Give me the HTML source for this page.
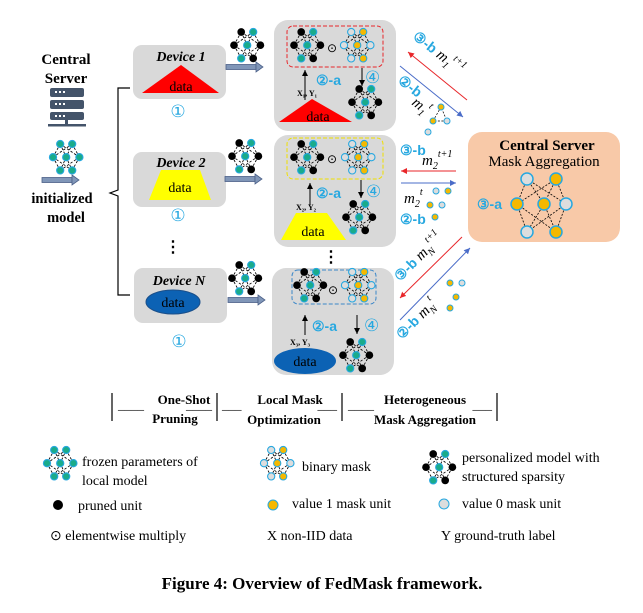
<!DOCTYPE html>
<html><head><style>
body{margin:0;background:#fff}
svg{display:block}
text{font-family:"Liberation Serif",serif}
.b{font-weight:bold}
.c{fill:#27a8e0;font-family:"Liberation Sans",sans-serif;font-weight:bold}
</style></head><body>
<svg width="643" height="613" viewBox="0 0 643 613">
<defs>
<g id="edges" stroke="#000" stroke-width="0.7" stroke-dasharray="2,1.5" fill="none">
<path d="M6,0L0,11M6,0L11,11M6,0L22,11M16,0L0,11M16,0L11,11M16,0L22,11M0,11L6,22M0,11L16,22M11,11L6,22M11,11L16,22M22,11L6,22M22,11L16,22"/>
</g>
<g id="ng"><g transform="translate(4,4) scale(1.2)"><use href="#edges"/><g fill="#1aab8a" stroke="#27a8e0" stroke-width="0.9"><circle cx="6" cy="0" r="3"/><circle cx="16" cy="0" r="3"/><circle cx="0" cy="11" r="3"/><circle cx="11" cy="11" r="3"/><circle cx="22" cy="11" r="3"/><circle cx="6" cy="22" r="3"/><circle cx="16" cy="22" r="3"/></g></g></g>
<g id="np"><g transform="translate(4,4) scale(1.2)"><use href="#edges"/><g fill="#000"><circle cx="6" cy="0" r="3.2"/><circle cx="0" cy="11" r="3.2"/><circle cx="22" cy="11" r="3.2"/><circle cx="16" cy="22" r="3.2"/></g><g fill="#1aab8a" stroke="#27a8e0" stroke-width="0.9"><circle cx="16" cy="0" r="3"/><circle cx="11" cy="11" r="3"/><circle cx="6" cy="22" r="3"/></g></g></g>
<g id="nm"><g transform="translate(4,4) scale(1.2)"><use href="#edges"/><g stroke="#27a8e0" stroke-width="0.9"><circle cx="6" cy="0" r="3" fill="#ddd"/><circle cx="16" cy="0" r="3" fill="#f5b800"/><circle cx="0" cy="11" r="3" fill="#ddd"/><circle cx="11" cy="11" r="3" fill="#f5b800"/><circle cx="22" cy="11" r="3" fill="#ddd"/><circle cx="6" cy="22" r="3" fill="#ddd"/><circle cx="16" cy="22" r="3" fill="#f5b800"/></g></g></g>
<g id="arr"><rect x="0" y="-2.5" width="30" height="5" fill="#8096b8" stroke="#4b6088" stroke-width="0.8"/><path d="M30,-5L37,0L30,5Z" fill="#8096b8" stroke="#4b6088" stroke-width="0.8"/></g>
<marker id="mr" markerWidth="8" markerHeight="8" refX="6" refY="3" orient="auto"><path d="M0,0L6,3L0,6Z" fill="#e8262a"/></marker>
<marker id="mb" markerWidth="8" markerHeight="8" refX="6" refY="3" orient="auto"><path d="M0,0L6,3L0,6Z" fill="#4a6cc8"/></marker>
<marker id="mk" markerWidth="8" markerHeight="8" refX="6" refY="3" orient="auto"><path d="M0,0L6,3L0,6Z" fill="#000"/></marker>
</defs>

<!-- left -->
<text x="66" y="64" text-anchor="middle" class="b" font-size="15">Central</text>
<text x="66" y="83" text-anchor="middle" class="b" font-size="15">Server</text>
<g fill="#44546a"><rect x="50" y="88" width="34" height="9" rx="2"/><rect x="50" y="100" width="34" height="9" rx="2"/><rect x="50" y="112" width="34" height="8" rx="2"/><rect x="65" y="120" width="3" height="5"/><rect x="48" y="124" width="38" height="2.5"/></g>
<g fill="#fff"><rect x="55" y="91" width="2" height="2"/><rect x="59" y="91" width="2" height="2"/><rect x="63" y="91" width="2" height="2"/><rect x="55" y="103" width="2" height="2"/><rect x="59" y="103" width="2" height="2"/><rect x="63" y="103" width="2" height="2"/><rect x="55" y="115" width="2" height="2"/><rect x="59" y="115" width="2" height="2"/><rect x="63" y="115" width="2" height="2"/></g>
<use href="#ng" x="49" y="140"/>
<use href="#arr" x="42" y="180"/>
<text x="62" y="203" text-anchor="middle" class="b" font-size="14.5">initialized</text>
<text x="66" y="222" text-anchor="middle" class="b" font-size="14.5">model</text>
<path d="M130,88H118V190L110,193L118,196V295H130" fill="none" stroke="#000" stroke-width="1.2"/>

<!-- devices -->
<rect x="133" y="45" width="93" height="54" rx="9" fill="#d9d9d9"/>
<text x="181" y="61" text-anchor="middle" class="b" font-style="italic" font-size="14">Device 1</text>
<path d="M142,93L181,65L219,93Z" fill="#f00"/>
<text x="181" y="91" text-anchor="middle" font-size="14">data</text>
<text x="178" y="117" text-anchor="middle" font-size="17" fill="#27a8e0">①</text>

<rect x="133" y="152" width="93" height="55" rx="9" fill="#d9d9d9"/>
<text x="181" y="167" text-anchor="middle" class="b" font-style="italic" font-size="14">Device 2</text>
<path d="M161,170H200L211,200H149Z" fill="#ff0"/>
<text x="180" y="192" text-anchor="middle" font-size="14">data</text>
<text x="178" y="221" text-anchor="middle" font-size="17" fill="#27a8e0">①</text>
<text x="173" y="252" text-anchor="middle" class="b" font-size="16">⋮</text>

<rect x="134" y="268" width="93" height="55" rx="9" fill="#d9d9d9"/>
<text x="179" y="285" text-anchor="middle" class="b" font-style="italic" font-size="14">Device N</text>
<ellipse cx="173" cy="302" rx="27" ry="12" fill="#0c62b4" stroke="#1a4f8a"/>
<text x="173" y="307" text-anchor="middle" font-size="14">data</text>
<text x="179" y="347" text-anchor="middle" font-size="17" fill="#27a8e0">①</text>

<!-- pruned nets & arrows -->
<use href="#np" x="230" y="28"/><use href="#arr" x="226" y="67"/>
<use href="#np" x="228" y="139"/><use href="#arr" x="225" y="179"/>
<use href="#np" x="228" y="261"/><use href="#arr" x="228" y="300"/>

<!-- local boxes -->
<g>
<rect x="274" y="20" width="122" height="111" rx="14" fill="#d9d9d9"/>
<rect x="287" y="26" width="96" height="41" rx="6" fill="none" stroke="#e8262a" stroke-dasharray="4,2"/>
<use href="#np" x="290" y="28"/><text x="327" y="52" font-size="12">⊙</text><use href="#nm" x="340" y="28"/>
<line x1="305" y1="100" x2="305" y2="70" stroke="#000" marker-end="url(#mk)"/>
<line x1="362" y1="68" x2="362" y2="86" stroke="#000" marker-end="url(#mk)"/>
<text x="316" y="85" class="c" font-size="14">②-a</text>
<text x="365" y="83" font-size="17" fill="#27a8e0">④</text>
<text x="297" y="96" font-family="Liberation Sans" font-weight="bold" font-size="8">X₁, Y₁</text>
<use href="#np" x="348" y="85"/>
<path d="M279,122L312,99L352,122Z" fill="#f00"/>
<text x="318" y="121" text-anchor="middle" font-size="14">data</text>
</g>
<g>
<rect x="274" y="135" width="122" height="112" rx="14" fill="#d9d9d9"/>
<rect x="287" y="138" width="96" height="41" rx="6" fill="none" stroke="#f0e000" stroke-dasharray="4,2"/>
<use href="#np" x="290" y="140"/><text x="327" y="163" font-size="12">⊙</text><use href="#nm" x="341" y="140"/>
<line x1="310" y1="205" x2="310" y2="183" stroke="#000" marker-end="url(#mk)"/>
<line x1="361" y1="180" x2="361" y2="198" stroke="#000" marker-end="url(#mk)"/>
<text x="316" y="198" class="c" font-size="14">②-a</text>
<text x="366" y="197" font-size="17" fill="#27a8e0">④</text>
<text x="296" y="210" font-family="Liberation Sans" font-weight="bold" font-size="8">X₂, Y₂</text>
<use href="#np" x="342" y="200"/>
<path d="M296,213H327L346,240H281Z" fill="#ff0"/>
<text x="313" y="236" text-anchor="middle" font-size="14">data</text>
</g>
<text x="331" y="262" text-anchor="middle" class="b" font-size="16">⋮</text>
<g>
<rect x="272" y="268" width="122" height="107" rx="14" fill="#d9d9d9"/>
<rect x="292" y="270" width="84" height="34" rx="6" fill="none" stroke="#3a86c8" stroke-dasharray="4,2"/>
<use href="#np" x="293" y="268"/><text x="328" y="294" font-size="12">⊙</text><use href="#nm" x="341" y="268"/>
<line x1="305" y1="335" x2="305" y2="315" stroke="#000" marker-end="url(#mk)"/>
<line x1="357" y1="315" x2="357" y2="334" stroke="#000" marker-end="url(#mk)"/>
<text x="312" y="331" class="c" font-size="14">②-a</text>
<text x="364" y="331" font-size="17" fill="#27a8e0">④</text>
<text x="290" y="345" font-family="Liberation Sans" font-weight="bold" font-size="8">X₃, Y₃</text>
<use href="#np" x="339" y="338"/>
<ellipse cx="305" cy="361" rx="31" ry="13" fill="#0c62b4"/>
<text x="305" y="366" text-anchor="middle" font-size="14">data</text>
</g>

<!-- arrows to/from server -->
<line x1="467" y1="100" x2="408" y2="52" stroke="#e8262a" marker-end="url(#mr)"/>
<line x1="400" y1="66" x2="463" y2="117" stroke="#4a6cc8" marker-end="url(#mb)"/>
<text x="412" y="38" transform="rotate(38 412 38)" class="c" font-size="14">③-b <tspan fill="#000" font-family="Liberation Serif" font-style="italic" font-weight="normal" font-size="15">m</tspan><tspan fill="#000" font-family="Liberation Serif" font-style="italic" font-weight="normal" font-size="10" dy="4">1</tspan><tspan fill="#000" font-family="Liberation Serif" font-style="italic" font-weight="normal" font-size="10" dy="-12">t+1</tspan></text>
<text x="397" y="82" transform="rotate(38 397 82)" class="c" font-size="14">②-b</text>
<text x="411" y="104" transform="rotate(38 411 104)" font-style="italic" font-size="15">m<tspan font-size="10" dy="4">1</tspan><tspan font-size="10" dy="-12">t</tspan></text>
<g stroke="#000" stroke-width="0.7" stroke-dasharray="2,1.5" fill="none"><path d="M441,107L433,121L447,121Z"/></g>
<circle cx="441" cy="107" r="3" fill="#f5b800" stroke="#27a8e0"/><circle cx="433" cy="121" r="3" fill="#f5b800" stroke="#27a8e0"/><circle cx="447" cy="121" r="3" fill="#ddd" stroke="#27a8e0"/><circle cx="428" cy="132" r="3" fill="#ddd" stroke="#27a8e0"/>

<text x="400" y="155" class="c" font-size="14">③-b</text>
<text x="422" y="165" font-style="italic" font-size="15">m<tspan font-size="10" dy="4">2</tspan><tspan font-size="10" dy="-12">t+1</tspan></text>
<line x1="456" y1="171" x2="401" y2="171" stroke="#e8262a" marker-end="url(#mr)"/>
<line x1="401" y1="183" x2="456" y2="183" stroke="#4a6cc8" marker-end="url(#mb)"/>
<text x="404" y="203" font-style="italic" font-size="15">m<tspan font-size="10" dy="4">2</tspan><tspan font-size="10" dy="-12">t</tspan></text>
<text x="400" y="224" class="c" font-size="14">②-b</text>
<circle cx="436" cy="191" r="3" fill="#ddd" stroke="#27a8e0"/><circle cx="448" cy="191" r="3" fill="#f5b800" stroke="#27a8e0"/><circle cx="430" cy="205" r="3" fill="#f5b800" stroke="#27a8e0"/><circle cx="442" cy="205" r="3" fill="#ddd" stroke="#27a8e0"/><circle cx="435" cy="217" r="3" fill="#f5b800" stroke="#27a8e0"/>

<line x1="462" y1="237" x2="400" y2="298" stroke="#e8262a" marker-end="url(#mr)"/>
<line x1="400" y1="320" x2="470" y2="248" stroke="#4a6cc8" marker-end="url(#mb)"/>
<text x="400" y="282" transform="rotate(-45 400 282)" class="c" font-size="14">③-b <tspan fill="#000" font-family="Liberation Serif" font-style="italic" font-weight="normal" font-size="15">m</tspan><tspan fill="#000" font-family="Liberation Serif" font-style="italic" font-weight="normal" font-size="10" dy="4">N</tspan><tspan fill="#000" font-family="Liberation Serif" font-style="italic" font-weight="normal" font-size="10" dy="-12">t+1</tspan></text>
<text x="402" y="340" transform="rotate(-45 402 340)" class="c" font-size="14">②-b <tspan fill="#000" font-family="Liberation Serif" font-style="italic" font-weight="normal" font-size="15">m</tspan><tspan fill="#000" font-family="Liberation Serif" font-style="italic" font-weight="normal" font-size="10" dy="4">N</tspan><tspan fill="#000" font-family="Liberation Serif" font-style="italic" font-weight="normal" font-size="10" dy="-12">t</tspan></text>
<circle cx="450" cy="283" r="3" fill="#f5b800" stroke="#27a8e0"/><circle cx="462" cy="283" r="3" fill="#ddd" stroke="#27a8e0"/><circle cx="456" cy="297" r="3" fill="#f5b800" stroke="#27a8e0"/><circle cx="450" cy="308" r="3" fill="#f5b800" stroke="#27a8e0"/>

<!-- central server -->
<rect x="468" y="132" width="152" height="110" rx="14" fill="#f8c9a8"/>
<text x="547" y="150" text-anchor="middle" class="b" font-size="15">Central Server</text>
<text x="544" y="166" text-anchor="middle" font-size="15">Mask Aggregation</text>
<text x="477" y="209" class="c" font-size="14">③-a</text>
<g stroke="#000" stroke-width="0.8" stroke-dasharray="2,1.5"><path d="M527,179L517,204M527,179L544,204M527,179L566,204M556,179L517,204M556,179L544,204M556,179L566,204M517,204L527,232M517,204L556,232M544,204L527,232M544,204L556,232M566,204L527,232M566,204L556,232"/></g>
<g stroke="#27a8e0" stroke-width="1.5"><circle cx="527" cy="179" r="6" fill="#ddd"/><circle cx="556" cy="179" r="6" fill="#f5b800"/><circle cx="517" cy="204" r="6" fill="#f5b800"/><circle cx="544" cy="204" r="6" fill="#f5b800"/><circle cx="566" cy="204" r="6" fill="#ddd"/><circle cx="527" cy="232" r="6" fill="#ddd"/><circle cx="556" cy="232" r="6" fill="#f5b800"/></g>

<!-- stages -->
<g stroke="#000" stroke-width="1.2"><line x1="112" y1="393" x2="112" y2="421"/><line x1="217" y1="393" x2="217" y2="421"/><line x1="342" y1="393" x2="342" y2="421"/><line x1="497" y1="393" x2="497" y2="421"/></g>
<text x="184" y="404" text-anchor="middle" class="b" font-size="13">One-Shot</text>
<text x="175" y="423" text-anchor="middle" class="b" font-size="13">Pruning</text>
<text x="118" y="409" font-size="13">____</text><text x="212" y="409" text-anchor="end" font-size="13">____</text>
<text x="290" y="404" text-anchor="middle" class="b" font-size="13">Local Mask</text>
<text x="284" y="424" text-anchor="middle" class="b" font-size="13">Optimization</text>
<text x="222" y="409" font-size="13">___</text><text x="337" y="409" text-anchor="end" font-size="13">___</text>
<text x="425" y="404" text-anchor="middle" class="b" font-size="13">Heterogeneous</text>
<text x="425" y="424" text-anchor="middle" class="b" font-size="13">Mask Aggregation</text>
<text x="348" y="409" font-size="13">____</text><text x="492" y="409" text-anchor="end" font-size="13">___</text>

<!-- legend -->
<use href="#ng" x="43" y="446"/>
<text x="82" y="466" font-size="14">frozen parameters of</text>
<text x="82" y="485" font-size="14">local model</text>
<use href="#nm" x="260" y="446"/>
<text x="302" y="471" font-size="14">binary mask</text>
<use href="#np" x="422" y="450"/>
<text x="462" y="462" font-size="14">personalized model with</text>
<text x="462" y="481" font-size="14">structured sparsity</text>
<circle cx="58" cy="505" r="5" fill="#000"/>
<text x="78" y="510" font-size="14">pruned unit</text>
<circle cx="273" cy="505" r="5" fill="#f5b800" stroke="#27a8e0"/>
<text x="292" y="508" font-size="14">value 1 mask unit</text>
<circle cx="444" cy="504" r="5" fill="#ddd" stroke="#27a8e0"/>
<text x="462" y="508" font-size="14">value 0 mask unit</text>
<text x="50" y="540" font-size="14">⊙ elementwise multiply</text>
<text x="267" y="540" font-size="14">X  non-IID data</text>
<text x="441" y="540" font-size="14">Y  ground-truth label</text>
<text x="322" y="589" text-anchor="middle" class="b" font-size="17">Figure 4: Overview of FedMask framework.</text>
</svg>
</body></html>
